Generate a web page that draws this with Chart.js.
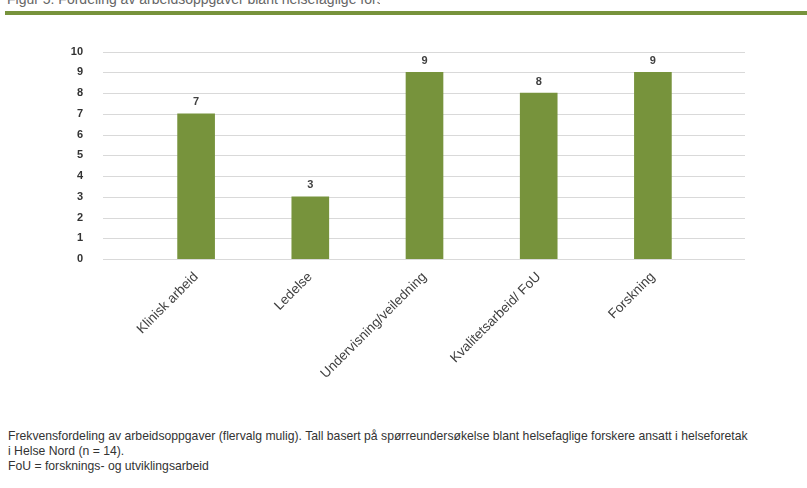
<!DOCTYPE html>
<html lang="no">
<head>
    <meta charset="UTF-8">
    <title>Arbeidsoppgaver</title>
    <style>
        body { margin: 0; width: 807px; height: 488px; background: #fff; position: relative; overflow: hidden; }
        .topline { position: absolute; left: 5px; top: 0; width: 375px; height: 7px; overflow: hidden; }
        .topline span { position: absolute; top: -9px; left: 2px; font: 14px "Liberation Sans", sans-serif; color: #666; white-space: nowrap; }
        .bar { position: absolute; left: 5px; top: 11px; width: 802px; height: 4px; background: #77933c; }
        .wrap { position: absolute; left: 0; top: -11px; width: 807px; height: 411px; }
        .caption { position: absolute; left: 8px; top: 429px; font: 12.2px "Liberation Sans", sans-serif; color: #333; line-height: 15px; white-space: nowrap; }
    </style>
</head>
<body>
    <div class="topline"><span>Figur 5: Fordeling av arbeidsoppgaver blant helsefaglige forskere</span></div>
    <div class="bar"></div>

    <div class="wrap"><canvas id="myChart"></canvas></div>

    <div class="caption">
        Frekvensfordeling av arbeidsoppgaver (flervalg mulig). Tall basert på spørreundersøkelse blant helsefaglige forskere ansatt i helseforetak<br>
        i Helse Nord (n = 14).<br>
        FoU = forsknings- og utviklingsarbeid
    </div>

    <script src="https://cdn.jsdelivr.net/npm/chart.js"></script>

    <script>
        // data
        let categories = ['Klinisk arbeid', 'Ledelse', 'Undervisning/veiledning', 'Kvalitetsarbeid/ FoU', 'Forskning'];
        let values = [7, 3, 9, 8, 9];
        let yTicks = [0, 1, 2, 3, 4, 5, 6, 7, 8, 9, 10];

        // gridlines that run a bit wider than the bars
        const wideGrid = {
            id: 'wideGrid',
            beforeDatasetsDraw(chart) {
                const c = chart.ctx;
                const y = chart.scales.y;
                c.save();
                c.strokeStyle = '#d9d9d9';
                c.lineWidth = 1;
                yTicks.forEach(v => {
                    const py = Math.round(y.getPixelForValue(v)) + 0.5;
                    c.beginPath();
                    c.moveTo(103, py);
                    c.lineTo(745, py);
                    c.stroke();
                });
                c.restore();
            }
        };

        // value labels over the bars
        const valueLabels = {
            id: 'valueLabels',
            afterDatasetsDraw(chart) {
                const c = chart.ctx;
                c.save();
                c.font = 'bold 11px "Liberation Sans", sans-serif';
                c.fillStyle = '#404040';
                c.textAlign = 'center';
                c.textBaseline = 'bottom';
                chart.getDatasetMeta(0).data.forEach((bar, i) => {
                    c.fillText(values[i], bar.x, bar.y - 6);
                });
                c.restore();
            }
        };

        const ctx = document.getElementById('myChart');

        new Chart(ctx, {
            type: 'bar',
            data: {
                labels: categories,
                datasets: [{
                    data: values,
                    backgroundColor: '#77933c',
                    barThickness: 37
                }]
            },
            options: {
                responsive: true,
                maintainAspectRatio: false,
                animation: false,
                layout: { padding: { top: 1, right: 97, left: 0, bottom: 0 } },
                plugins: {
                    legend: { display: false },
                    tooltip: { enabled: false }
                },
                scales: {
                    x: {
                        grid: { display: false, drawTicks: false },
                        border: { display: false },
                        ticks: {
                            minRotation: 45,
                            maxRotation: 45,
                            padding: 10,
                            color: '#404040',
                            font: { family: 'Liberation Sans, sans-serif', size: 13.5 }
                        },
                        afterFit(scale) { scale.height = 141; }
                    },
                    y: {
                        min: 0,
                        max: 10,
                        grid: { display: false, drawTicks: false },
                        border: { display: false },
                        afterBuildTicks(scale) { scale.ticks = yTicks.map(v => ({ value: v })); },
                        ticks: {
                            padding: 56,
                            color: '#333',
                            font: { family: 'Liberation Sans', size: 11, weight: 'bold' }
                        },
                        afterFit(scale) { scale.width = 139; }
                    }
                }
            },
            plugins: [wideGrid, valueLabels]
        });
    </script>
</body>
</html>
